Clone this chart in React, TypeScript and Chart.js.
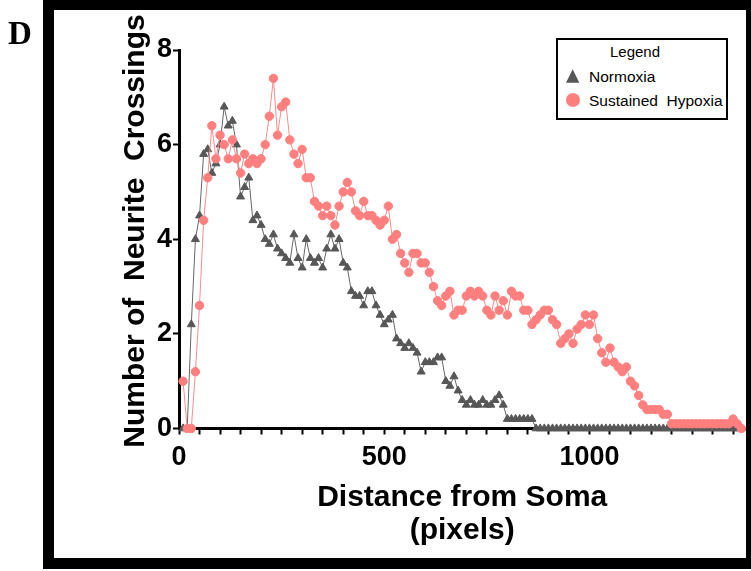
import React, { useEffect, useRef } from 'react';
import { Chart, registerables } from 'chart.js';

Chart.register(...registerables);

// Distance from soma (pixels)
const distance = [
  10, 20, 30, 40, 50, 60, 70, 80, 90, 100,
  110, 120, 130, 140, 150, 160, 170, 180, 190, 200,
  210, 220, 230, 240, 250, 260, 270, 280, 290, 300,
  310, 320, 330, 340, 350, 360, 370, 380, 390, 400,
  410, 420, 430, 440, 450, 460, 470, 480, 490, 500,
  510, 520, 530, 540, 550, 560, 570, 580, 590, 600,
  610, 620, 630, 640, 650, 660, 670, 680, 690, 700,
  710, 720, 730, 740, 750, 760, 770, 780, 790, 800,
  810, 820, 830, 840, 850, 860, 870, 880, 890, 900,
  910, 920, 930, 940, 950, 960, 970, 980, 990, 1000,
  1010, 1020, 1030, 1040, 1050, 1060, 1070, 1080, 1090, 1100,
  1110, 1120, 1130, 1140, 1150, 1160, 1170, 1180, 1190, 1200,
  1210, 1220, 1230, 1240, 1250, 1260, 1270, 1280, 1290, 1300,
  1310, 1320, 1330, 1340, 1350, 1360, 1370,
];

const normoxia = [
  0, 0, 2.2, 4.0, 4.5, 5.8, 5.9, 5.4, 5.6, 6.0,
  6.8, 6.4, 6.5, 6.0, 4.9, 5.1, 5.3, 4.4, 4.5, 4.3,
  4.0, 3.9, 4.1, 3.8, 3.7, 3.6, 3.5, 4.1, 3.6, 3.4,
  4.0, 3.6, 3.5, 3.6, 3.4, 3.8, 4.1, 3.8, 4.0, 3.5,
  3.4, 2.9, 2.8, 2.8, 2.6, 2.9, 2.9, 2.6, 2.4, 2.2,
  2.3, 2.4, 1.9, 1.8, 1.7, 1.8, 1.7, 1.6, 1.2, 1.4,
  1.4, 1.4, 1.5, 1.5, 1.0, 0.9, 1.1, 0.8, 0.6, 0.5,
  0.6, 0.5, 0.5, 0.6, 0.5, 0.5, 0.6, 0.7, 0.5, 0.2,
  0.2, 0.2, 0.2, 0.2, 0.2, 0.2, 0, 0, 0, 0,
  0, 0, 0, 0, 0, 0, 0, 0, 0, 0,
  0, 0, 0, 0, 0, 0, 0, 0, 0, 0,
  0, 0, 0, 0, 0, 0, 0, 0, 0, 0,
  0, 0, 0, 0, 0, 0, 0, 0, 0, 0,
  0, 0, 0, 0, 0, 0, 0,
];

const sustainedHypoxia = [
  1.0, 0, 0, 1.2, 2.6, 4.4, 5.3, 6.4, 5.7, 6.2,
  6.0, 5.7, 6.1, 5.7, 5.4, 5.8, 5.6, 5.7, 5.6, 5.7,
  6.0, 6.6, 7.4, 6.2, 6.8, 6.9, 6.1, 5.8, 5.6, 5.9,
  5.3, 5.3, 4.8, 4.7, 4.5, 4.7, 4.5, 4.3, 4.7, 5.0,
  5.2, 5.0, 4.6, 4.5, 4.8, 4.5, 4.5, 4.4, 4.3, 4.4,
  4.7, 4.0, 4.1, 3.7, 3.5, 3.3, 3.7, 3.7, 3.5, 3.5,
  3.3, 3.0, 2.7, 2.6, 2.8, 2.9, 2.4, 2.5, 2.5, 2.8,
  2.9, 2.8, 2.9, 2.8, 2.5, 2.4, 2.8, 2.5, 2.7, 2.4,
  2.9, 2.8, 2.8, 2.5, 2.5, 2.2, 2.3, 2.4, 2.5, 2.5,
  2.3, 2.2, 1.8, 1.9, 2.0, 1.8, 2.1, 2.2, 2.4, 2.2,
  2.4, 1.9, 1.6, 1.4, 1.7, 1.4, 1.3, 1.2, 1.3, 1.0,
  0.9, 0.7, 0.5, 0.4, 0.4, 0.4, 0.4, 0.3, 0.3, 0.1,
  0.1, 0.1, 0.1, 0.1, 0.1, 0.1, 0.1, 0.1, 0.1, 0.1,
  0.1, 0.1, 0.1, 0.1, 0.2, 0.1, 0,
];

const xLabeledTicks = [0, 500, 1000];
const xMinorStep = 50;
const xMax = 1380;
const yMax = 8;
const yStep = 2;

const yTitle = 'Number of  Neurite  Crossings';
const xTitle = ['Distance from Soma', '(pixels)'];

const GRAY = '#575757';
const RED = '#ff7f7f';
const SANS = '"Liberation Sans", Arial, Helvetica, sans-serif';

export default function App() {
  const canvasRef = useRef<HTMLCanvasElement | null>(null);

  useEffect(() => {
    const canvas = canvasRef.current;
    if (!canvas) return;
    const chart = new Chart(canvas, {
      type: 'line',
      data: {
        datasets: [
          {
            label: 'Normoxia',
            data: distance.map((d, i) => ({ x: d, y: normoxia[i] })),
            borderColor: '#666666',
            backgroundColor: GRAY,
            pointBackgroundColor: GRAY,
            pointBorderColor: GRAY,
            pointStyle: 'triangle',
            pointRadius: 4.6,
            pointBorderWidth: 1,
            borderWidth: 1,
            tension: 0,
            clip: false,
            order: 1,
          },
          {
            label: 'Sustained  Hypoxia',
            data: distance.map((d, i) => ({ x: d, y: sustainedHypoxia[i] })),
            borderColor: '#ff8c8c',
            backgroundColor: RED,
            pointBackgroundColor: RED,
            pointBorderColor: RED,
            pointStyle: 'circle',
            pointRadius: 4.2,
            pointBorderWidth: 1,
            borderWidth: 1,
            tension: 0,
            clip: false,
            order: 0,
          },
        ],
      },
      options: {
        responsive: false,
        animation: false,
        devicePixelRatio: 1,
        layout: { padding: { top: 50, right: 5, bottom: 0, left: 0 } },
        plugins: {
          legend: { display: false },
          tooltip: { enabled: false },
        },
        scales: {
          x: {
            type: 'linear',
            min: 0,
            max: xMax,
            afterFit: (s: any) => {
              s.height = 142.5;
            },
            ticks: {
              stepSize: xMinorStep,
              includeBounds: false,
              autoSkip: false,
              maxRotation: 0,
              minRotation: 0,
              padding: 7,
              color: '#000',
              font: { family: SANS, size: 27, weight: 'bold' },
              callback: (v: any) => (xLabeledTicks.includes(Number(v)) ? String(v) : ''),
            },
            grid: {
              drawOnChartArea: false,
              drawTicks: true,
              tickLength: 6,
              tickWidth: 2,
              tickColor: '#000',
            },
            border: { display: true, color: '#000', width: 3 },
            title: {
              display: true,
              text: xTitle,
              color: '#000',
              font: { family: SANS, size: 30, weight: 'bold', lineHeight: 1.1 },
              padding: { top: 0, bottom: 24 },
            },
          },
          y: {
            type: 'linear',
            min: 0,
            max: yMax,
            afterFit: (s: any) => {
              s.width = 179;
            },
            ticks: {
              stepSize: yStep,
              padding: 1,
              color: '#000',
              font: { family: SANS, size: 27, weight: 'bold' },
            },
            grid: {
              drawOnChartArea: false,
              drawTicks: true,
              tickLength: 6,
              tickWidth: 2,
              tickColor: '#000',
            },
            border: { display: true, color: '#000', width: 3 },
            title: { display: false },
          },
        },
      },
    } as any);
    return () => chart.destroy();
  }, []);

  return (
    <div
      style={{
        position: 'absolute',
        left: 0,
        top: 0,
        width: 751,
        height: 571,
        background: '#fff',
        overflow: 'hidden',
      }}
    >
      <canvas
        ref={canvasRef}
        width={751}
        height={571}
        style={{ position: 'absolute', left: 0, top: 0, width: 751, height: 571 }}
      />
      <svg
        width={751}
        height={571}
        style={{ position: 'absolute', left: 0, top: 0, pointerEvents: 'none' }}
      >
        {/* frame */}
        <rect x={43} y={0} width={11} height={569} fill="#000" />
        <rect x={43} y={0} width={708} height={10} fill="#000" />
        <rect x={43} y={558} width={708} height={11} fill="#000" />
        <rect x={746} y={0} width={5} height={569} fill="#000" />
        {/* panel label */}
        <text
          x={8}
          y={44}
          fontFamily='"Liberation Serif", "Times New Roman", serif'
          fontWeight="bold"
          fontSize={33}
          fill="#000"
        >
          D
        </text>
        {/* y-axis title */}
        <text
          transform="translate(144, 231) rotate(-90)"
          x={0}
          y={0}
          textAnchor="middle"
          fontFamily={SANS}
          fontWeight="bold"
          fontSize={30}
          fill="#000"
          style={{ whiteSpace: 'pre' }}
          xmlSpace="preserve"
        >
          {yTitle}
        </text>
        {/* legend */}
        <rect x={557} y={39} width={170} height={80} fill="#fff" stroke="#000" strokeWidth={2} />
        <text x={635} y={57} textAnchor="middle" fontFamily={SANS} fontSize={15} fill="#000">
          Legend
        </text>
        <polygon points="566,82.7 579.3,82.7 572.7,69.3" fill={GRAY} />
        <text x={589} y={81.5} fontFamily={SANS} fontSize={15.5} fill="#000">
          Normoxia
        </text>
        <circle cx={573} cy={100} r={7} fill={RED} />
        <text
          x={589}
          y={105.7}
          fontFamily={SANS}
          fontSize={15.5}
          fill="#000"
          style={{ whiteSpace: 'pre' }}
          xmlSpace="preserve"
        >
          {'Sustained  Hypoxia'}
        </text>
      </svg>
    </div>
  );
}
